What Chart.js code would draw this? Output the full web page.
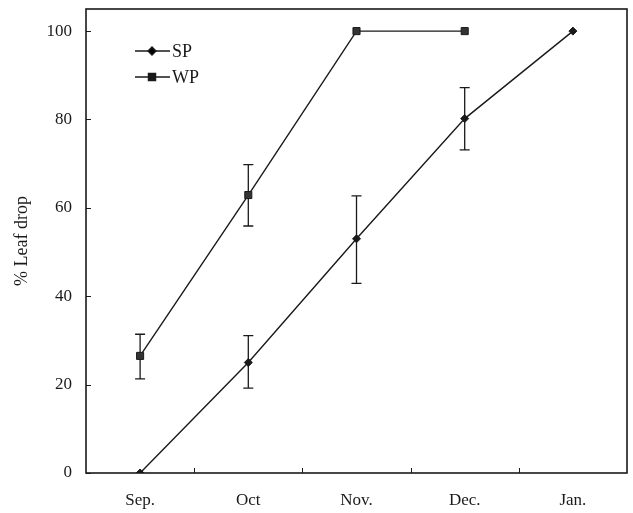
<!DOCTYPE html>
<html>
<head>
<meta charset="utf-8">
<script src="https://cdn.jsdelivr.net/npm/chart.js@4.4.0/dist/chart.umd.min.js"></script>
<style>
  html, body { margin: 0; padding: 0; background: #fff; }
  #wrap { width: 633px; height: 513px; }
</style>
</head>
<body>
<div id="wrap"><canvas id="myChart"></canvas></div>
<script>
// values
const months = ['Sep.', 'Oct', 'Nov.', 'Dec.', 'Jan.'];
const spValues = [0, 25, 53, 80.2, 100];
const spLow = [null, 19.2, 42.9, 73.1, null];
const spHigh = [null, 31.1, 62.7, 87.2, null];
const wpValues = [26.5, 62.9, 100, 100, null];
const wpLow = [21.3, 55.9, null, null, null];
const wpHigh = [31.4, 69.8, null, null, null];
const yTicks = [0, 20, 40, 60, 80, 100];

const serif = 'Liberation Serif';
const ink = '#1a1a1a';

// error bars, frame, inward ticks and the in-plot legend
const extras = {
  id: 'extras',
  beforeDatasetsDraw(chart) {
    const ctx = chart.ctx;
    const y = chart.scales.y;
    const bars = [[spLow, spHigh], [wpLow, wpHigh]];
    ctx.save();
    ctx.strokeStyle = ink;
    ctx.lineWidth = 1.3;
    bars.forEach((b, di) => {
      const meta = chart.getDatasetMeta(di);
      meta.data.forEach((pt, i) => {
        if (b[0][i] == null) return;
        const y0 = y.getPixelForValue(b[0][i]);
        const y1 = y.getPixelForValue(b[1][i]);
        ctx.beginPath();
        ctx.moveTo(pt.x, y0); ctx.lineTo(pt.x, y1);
        ctx.moveTo(pt.x - 5, y0); ctx.lineTo(pt.x + 5, y0);
        ctx.moveTo(pt.x - 5, y1); ctx.lineTo(pt.x + 5, y1);
        ctx.stroke();
      });
    });
    ctx.restore();
  },
  afterDraw(chart) {
    const ctx = chart.ctx;
    const a = chart.chartArea;
    const x = chart.scales.x;
    const y = chart.scales.y;
    ctx.save();
    ctx.strokeStyle = ink;
    ctx.lineWidth = 1.6;
    ctx.strokeRect(a.left, a.top, a.right - a.left, a.bottom - a.top);
    ctx.lineWidth = 1;
    ctx.beginPath();
    yTicks.forEach(v => {
      const py = Math.round(y.getPixelForValue(v)) + 0.5;
      ctx.moveTo(a.left, py); ctx.lineTo(a.left + 5, py);
    });
    for (let i = 0; i < months.length - 1; i++) {
      const px = Math.round((x.getPixelForValue(i) + x.getPixelForValue(i + 1)) / 2) + 0.5;
      ctx.moveTo(px, a.bottom); ctx.lineTo(px, a.bottom - 5);
    }
    ctx.stroke();

    // legend
    const rows = [51, 77];
    chart.data.datasets.forEach((ds, i) => {
      const ly = rows[i];
      ctx.strokeStyle = ink;
      ctx.lineWidth = 1.4;
      ctx.beginPath();
      ctx.moveTo(135, ly); ctx.lineTo(170, ly);
      ctx.stroke();
      Chart.helpers.drawPoint(ctx, {pointStyle: ds.pointStyle, radius: ds.pointRadius, borderWidth: 1}, 152, ly);
      ctx.fillStyle = ink;
      ctx.font = '18px "' + serif + '"';
      ctx.textBaseline = 'middle';
      ctx.fillText(ds.label, 172, ly + 1);
    });
    ctx.restore();
  }
};

const data = {
  labels: months,
  datasets: [
    {
      label: 'SP',
      data: spValues,
      borderColor: ink,
      backgroundColor: ink,
      borderWidth: 1.4,
      pointStyle: 'rectRot',
      pointRadius: 4,
      pointBorderWidth: 1
    },
    {
      label: 'WP',
      data: wpValues,
      borderColor: ink,
      backgroundColor: '#333',
      borderWidth: 1.4,
      pointStyle: 'rect',
      pointRadius: 5,
      pointBorderWidth: 1
    }
  ]
};

const config = {
  type: 'line',
  data: data,
  options: {
    responsive: true,
    maintainAspectRatio: false,
    animation: false,
    layout: { padding: { top: 9, right: 4, left: 0, bottom: 0 } },
    plugins: {
      legend: { display: false },
      tooltip: { enabled: false }
    },
    scales: {
      x: {
        type: 'category',
        offset: true,
        grid: { display: false, drawTicks: false },
        border: { display: false },
        ticks: { color: ink, padding: 17, maxRotation: 0, font: { family: serif, size: 17 } },
        afterFit(scale) { scale.height = 40; }
      },
      y: {
        min: 0,
        max: 105,
        grid: { display: false, drawTicks: false },
        border: { display: false },
        ticks: { color: ink, padding: 14, font: { family: serif, size: 17 } },
        afterBuildTicks(scale) { scale.ticks = yTicks.map(v => ({ value: v })); },
        title: {
          display: true,
          text: '% Leaf drop',
          color: ink,
          padding: { top: 11, bottom: 0 },
          font: { family: serif, size: 18 }
        },
        afterFit(scale) {
          scale.width = 86;
          scale.paddingTop = 0;
          scale.paddingBottom = 0;
        }
      }
    }
  },
  plugins: [extras]
};

var myChart = new Chart(document.getElementById('myChart'), config);
</script>
</body>
</html>
